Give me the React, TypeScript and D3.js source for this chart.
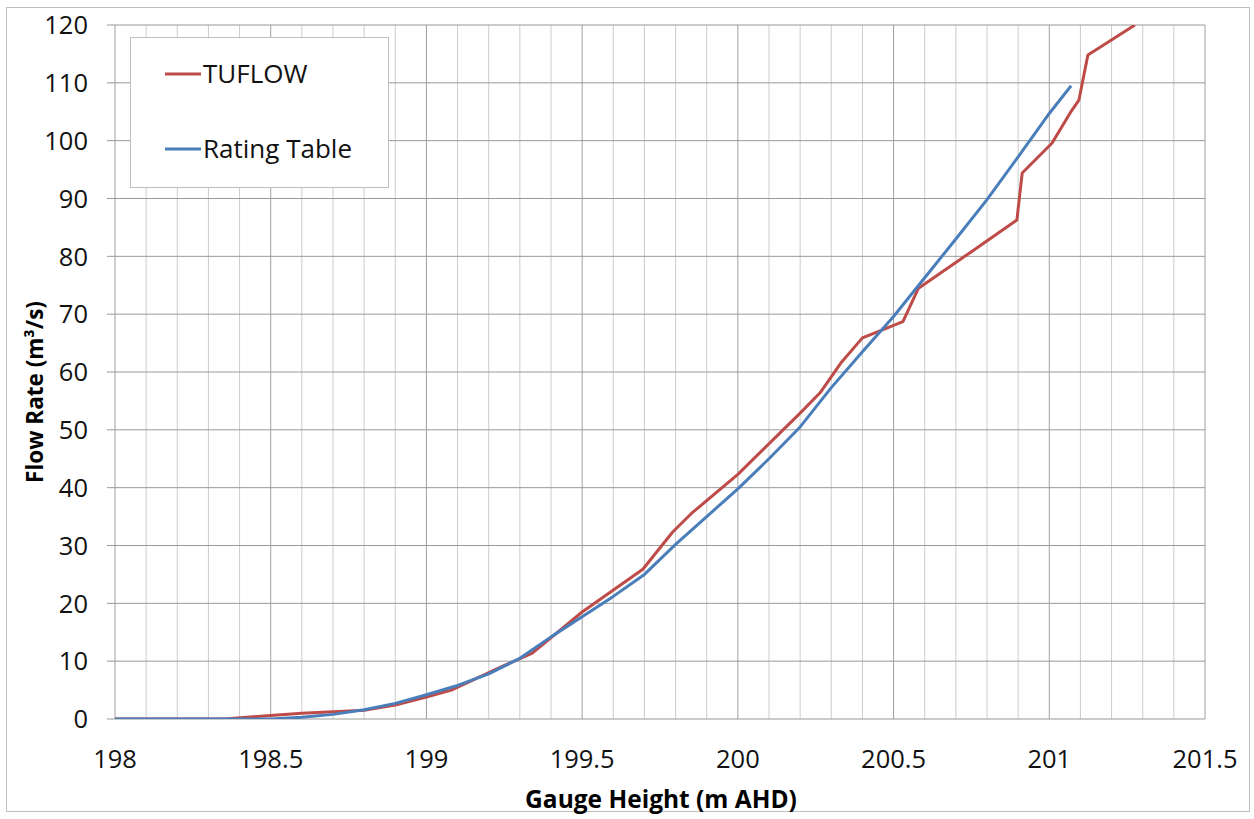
import React from 'react';
import * as d3 from 'd3';

// TUFLOW modelled stage-discharge
const tuflowGauge = [198.0, 198.35, 198.5, 198.6, 198.8, 198.9, 199.0, 199.08, 199.24, 199.34, 199.5, 199.695, 199.79, 199.85, 200.0, 200.2, 200.264, 200.33, 200.4, 200.53, 200.58, 200.75, 200.896, 200.913, 201.009, 201.067, 201.095, 201.124, 201.275];
const tuflowFlow = [0, 0, 0.6, 1.0, 1.5, 2.4, 3.8, 5.0, 9.0, 11.4, 18.5, 25.9, 32.3, 35.5, 42.3, 52.9, 56.4, 61.5, 65.9, 68.7, 74.5, 80.8, 86.3, 94.4, 99.6, 104.8, 107.0, 114.8, 120.0];

// Rating table
const ratingGauge = [198.0, 198.5, 198.6, 198.7, 198.8, 198.9, 199.0, 199.1, 199.2, 199.3, 199.4, 199.5, 199.6, 199.7, 199.8, 199.9, 200.0, 200.1, 200.2, 200.3, 200.4, 200.5, 200.6, 200.7, 200.8, 200.9, 201.0, 201.07];
const ratingFlow = [0, 0, 0.3, 0.8, 1.6, 2.7, 4.2, 5.8, 7.8, 10.5, 14.2, 17.7, 21.2, 25.0, 30.2, 35.0, 39.8, 45.0, 50.5, 57.3, 63.5, 69.6, 76.3, 83.0, 89.8, 97.2, 104.7, 109.5];

const xTicks = [198, 198.5, 199, 199.5, 200, 200.5, 201, 201.5];
const yTicks = [0, 10, 20, 30, 40, 50, 60, 70, 80, 90, 100, 110, 120];

const W = 1254;
const H = 819;
const plot = { left: 115, right: 1205, top: 25, bottom: 719 };
const FONT = "'Open Sans', 'Noto Sans', sans-serif";
const RED = '#BE4B48';
const BLUE = '#4A7EBB';

export default function App() {
  const x = d3.scaleLinear().domain([198, 201.5]).range([plot.left, plot.right]);
  const y = d3.scaleLinear().domain([0, 120]).range([plot.bottom, plot.top]);

  const line = d3.line<[number, number]>()
    .x(d => x(d[0]))
    .y(d => y(d[1]));

  const tuflow = tuflowGauge.map((g, i) => [g, tuflowFlow[i]] as [number, number]);
  const rating = ratingGauge.map((g, i) => [g, ratingFlow[i]] as [number, number]);

  // minor vertical gridlines every 0.1 m
  const minor = d3.range(1, 35).map(i => 198 + i * 0.1).filter(v => Math.abs(v * 2 - Math.round(v * 2)) > 1e-6);

  return (
    <svg width={W} height={H} style={{ position: 'absolute', left: 0, top: 0, background: '#fff' }}>
      <defs>
        <clipPath id="plotClip">
          <rect x={plot.left} y={plot.top} width={plot.right - plot.left} height={plot.bottom - plot.top} />
        </clipPath>
      </defs>
      <rect x={6.5} y={7.5} width={1243} height={804} fill="#fff" stroke="#bfbfbf" strokeWidth={1} />

      {/* gridlines */}
      {minor.map(v => (
        <line key={'mv' + v} x1={x(v)} x2={x(v)} y1={plot.top} y2={plot.bottom} stroke="#cccccc" strokeWidth={1} />
      ))}
      {xTicks.map(v => (
        <line key={'v' + v} x1={x(v)} x2={x(v)} y1={plot.top} y2={plot.bottom} stroke="#a0a0a0" strokeWidth={1} />
      ))}
      {yTicks.map(v => (
        <line key={'h' + v} x1={plot.left - 8} x2={plot.right} y1={y(v)} y2={y(v)} stroke="#999999" strokeWidth={1} />
      ))}

      {/* series */}
      <g clipPath="url(#plotClip)">
        <path d={line(tuflow) || ''} fill="none" stroke={RED} strokeWidth={3} strokeLinejoin="round" />
        <path d={line(rating) || ''} fill="none" stroke={BLUE} strokeWidth={3} strokeLinejoin="round" />
      </g>

      {/* tick labels */}
      {yTicks.map(v => (
        <text key={'yl' + v} x={88} y={y(v)} dy="0.36em" textAnchor="end" fontFamily={FONT} fontSize={25.5} fill="#111">{v}</text>
      ))}
      {xTicks.map(v => (
        <text key={'xl' + v} x={x(v)} y={768} textAnchor="middle" fontFamily={FONT} fontSize={25.5} fill="#111">{v}</text>
      ))}

      {/* axis titles */}
      <text x={(plot.left + plot.right) / 2 + 1} y={808} textAnchor="middle" fontFamily={FONT} fontWeight="bold" fontSize={24.5} fill="#000">Gauge Height (m AHD)</text>
      <text transform="translate(43,392) rotate(-90)" textAnchor="middle" fontFamily={FONT} fontWeight="bold" fontSize={22.5} fill="#000">Flow Rate (m³/s)</text>

      {/* legend */}
      <rect x={130.5} y={37.5} width={258} height={150} fill="#fff" stroke="#bfbfbf" strokeWidth={1} />
      <line x1={165} x2={201} y1={74} y2={74} stroke={RED} strokeWidth={3} />
      <text x={203} y={74} dy="0.36em" fontFamily={FONT} fontSize={26} fill="#111">TUFLOW</text>
      <line x1={165} x2={201} y1={149} y2={149} stroke={BLUE} strokeWidth={3} />
      <text x={203} y={149} dy="0.36em" fontFamily={FONT} fontSize={26} fill="#111">Rating Table</text>
    </svg>
  );
}
